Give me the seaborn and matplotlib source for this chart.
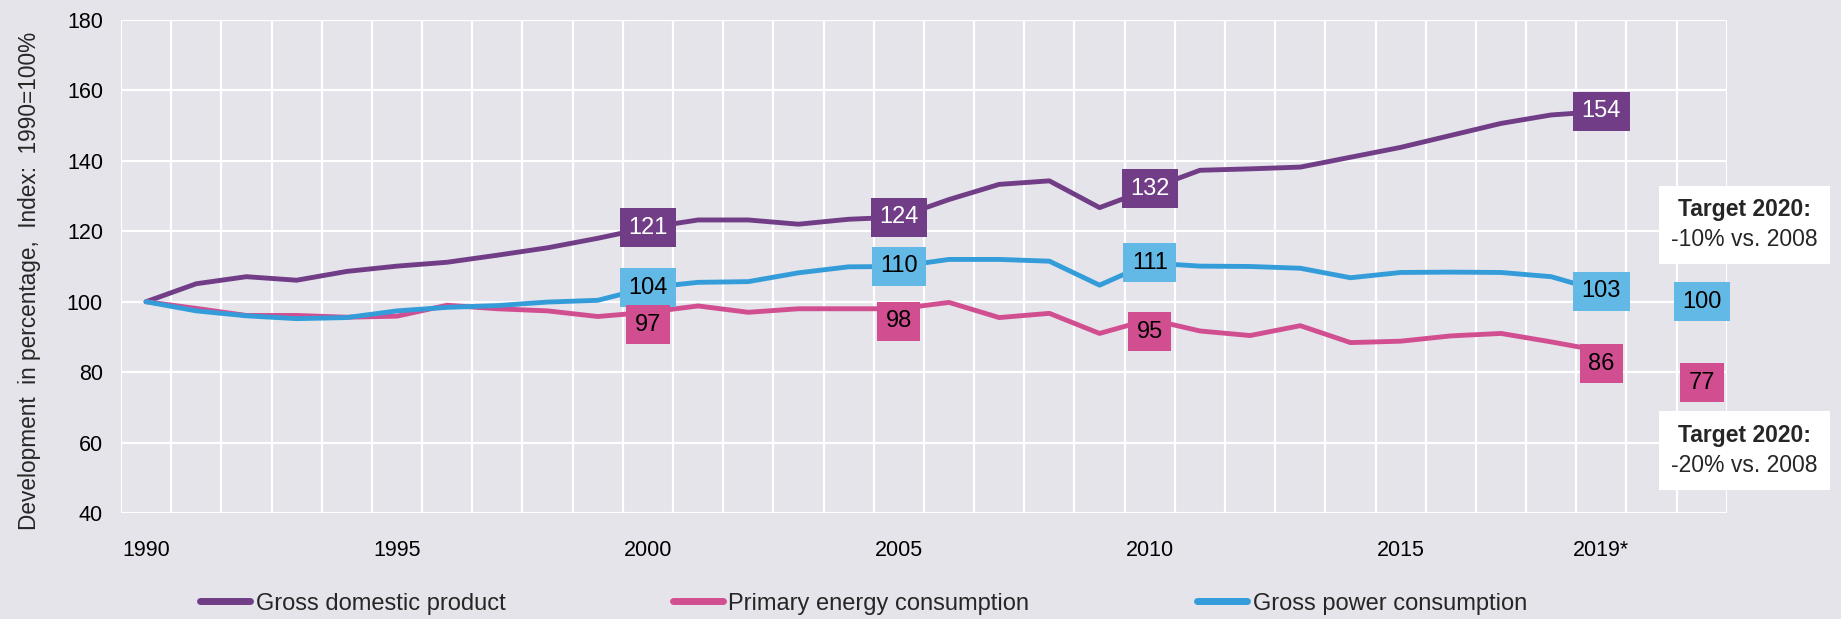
import matplotlib
matplotlib.use("Agg")
import matplotlib.pyplot as plt
from matplotlib.offsetbox import TextArea, VPacker, AnnotationBbox
import seaborn as sns
import pandas as pd

# index values, 1990 = 100
years = list(range(1990, 2020))
gdp = [100, 105.1, 107.1, 106.1, 108.6, 110.1, 111.2, 113.2, 115.3, 118.0,
       121, 123.2, 123.2, 122.0, 123.4, 124, 129.0, 133.3, 134.3, 126.7,
       132, 137.3, 137.7, 138.2, 141.0, 143.8, 147.2, 150.6, 153.0, 154]
primary = [100, 98.1, 96.1, 96.1, 95.6, 95.9, 99.0, 98.0, 97.4, 95.8,
           97, 98.8, 97.0, 98.0, 98.0, 98, 99.8, 95.5, 96.7, 91.0,
           95, 91.7, 90.4, 93.2, 88.4, 88.8, 90.3, 91.0, 88.6, 86]
power = [100, 97.4, 96.0, 95.2, 95.5, 97.4, 98.4, 98.9, 99.9, 100.4,
         104, 105.5, 105.7, 108.2, 109.9, 110, 112.0, 112.0, 111.5, 104.7,
         111, 110.1, 110.0, 109.5, 106.8, 108.3, 108.4, 108.3, 107.1, 103]

series_names = ["Gross domestic product", "Primary energy consumption",
                "Gross power consumption"]
label_years = [2000, 2005, 2010, 2019]

target_year = 2021
target_power = 100
target_primary = 77
target_notes = [("-10% vs. 2008", 121.8), ("-20% vs. 2008", 57.8)]

tick_years = [1990, 1995, 2000, 2005, 2010, 2015, 2019]
tick_labels = ["1990", "1995", "2000", "2005", "2010", "2015", "2019*"]

PURPLE = "#713D87"
PINK = "#D14F91"
BLUE_LINE = "#349DD9"
BLUE_BOX = "#63B9E5"
BG = "#E4E4EA"

sns.set_theme(style="darkgrid")
plt.rcParams["font.family"] = ["Liberation Sans", "DejaVu Sans"]

df = pd.DataFrame({"Year": years, series_names[0]: gdp,
                   series_names[1]: primary, series_names[2]: power})
long = df.melt(id_vars="Year", var_name="Series", value_name="Index")

fig = plt.figure(figsize=(18.41, 6.19), dpi=100, facecolor=BG)
ax = fig.add_axes([0.0657, 0.171, 0.8723, 0.797])
ax.set_facecolor(BG)

palette = {series_names[0]: PURPLE, series_names[1]: PINK,
           series_names[2]: BLUE_LINE}
sns.lineplot(data=long, x="Year", y="Index", hue="Series",
             hue_order=series_names, palette=palette, lw=3.5, ax=ax)

handles, labels = ax.get_legend_handles_labels()
ax.get_legend().remove()
for h in handles:
    h.set_linewidth(5)
fig.legend(handles, labels, loc="center", bbox_to_anchor=(0.469, 0.025),
           ncol=3, frameon=False, fontsize=17, handlelength=2.1,
           handletextpad=0.25, columnspacing=7.1)

ax.set_xlim(1989.5, 2021.5)
ax.set_ylim(40, 180)
ax.set_yticks(range(40, 181, 20))
ax.set_xticks(tick_years)
ax.set_xticklabels(tick_labels)
ax.set_xticks([y + 0.5 for y in range(1989, 2022)], minor=True)
ax.grid(False)
ax.grid(True, which="minor", axis="x", color="white", lw=1.6)
ax.grid(True, which="major", axis="y", color="white", lw=1.6)
ax.tick_params(axis="both", which="both", length=0, labelsize=15.5,
               colors="black")
ax.tick_params(axis="x", pad=19)
ax.tick_params(axis="y", pad=13)
for s in ax.spines.values():
    s.set_visible(False)

ax.set_xlabel("")
ax.set_ylabel("Development  in percentage,  Index:  1990=100%", fontsize=16.3)
ax.yaxis.set_label_coords(-0.050, 0.47)


def box_label(x, y, text, face, color, dy=0):
    ax.annotate(text, (x, y), xytext=(0, dy), textcoords="offset points",
                ha="center", va="center", fontsize=17, color=color,
                zorder=5, annotation_clip=False,
                bbox=dict(boxstyle="square,pad=0.36", fc=face, ec="none"))


for yr in label_years:
    i = years.index(yr)
    box_label(yr, gdp[i], f"{gdp[i]:.0f}", PURPLE, "white")
    box_label(yr, power[i], f"{power[i]:.0f}", BLUE_BOX, "black")
    box_label(yr, primary[i], f"{primary[i]:.0f}", PINK, "black", dy=-9)

box_label(target_year, target_power, f"{target_power}", BLUE_BOX, "black")
box_label(target_year, target_primary, f"{target_primary}", PINK, "black")

# white note boxes with a bold heading line
for note, yv in target_notes:
    head = TextArea("Target 2020:",
                    textprops=dict(fontsize=16.5, fontweight="bold"))
    body = TextArea(note, textprops=dict(fontsize=16.5))
    pack = VPacker(children=[head, body], align="center", pad=0, sep=5)
    ab = AnnotationBbox(pack, (2021.85, yv), frameon=True, pad=0.55,
                        fontsize=16.5, annotation_clip=False, zorder=7,
                        bboxprops=dict(fc="white", ec="none",
                                       boxstyle="square,pad=0.55"))
    ax.add_artist(ab)

fig.savefig("out.png", dpi=100, facecolor=BG)
